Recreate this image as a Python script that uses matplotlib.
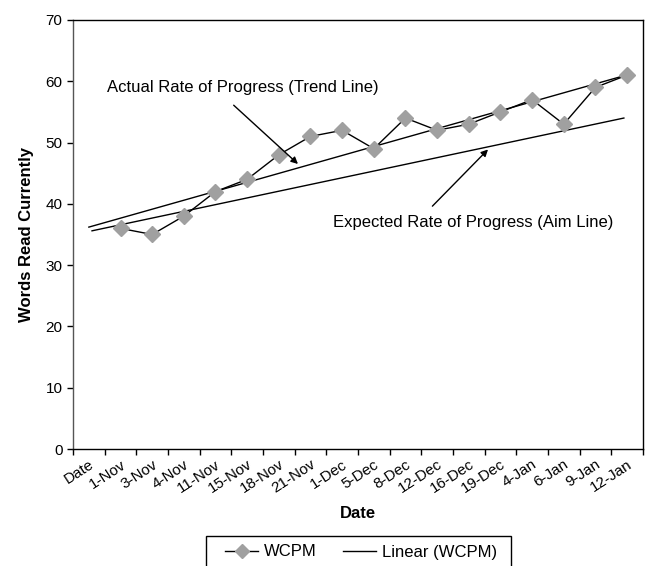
import matplotlib
matplotlib.use("Agg")
import matplotlib.pyplot as plt
import numpy as np
from matplotlib.lines import Line2D
from matplotlib.patches import Rectangle

plt.rcParams['font.family'] = ['Liberation Sans', 'DejaVu Sans']

categories = ["Date", "1-Nov", "3-Nov", "4-Nov", "11-Nov", "15-Nov", "18-Nov", "21-Nov",
              "1-Dec", "5-Dec", "8-Dec", "12-Dec", "16-Dec", "19-Dec", "4-Jan", "6-Jan",
              "9-Jan", "12-Jan"]
wcpm = [np.nan, 36, 35, 38, 42, 44, 48, 51, 52, 49, 54, 52, 53, 55, 57, 53, 59, 61]
aim_start = 35.6
aim_end = 54.0

W, H = 652, 566
fig = plt.figure(figsize=(W / 100, H / 100), dpi=100)
ax = fig.add_axes([0.112, 0.2067, 0.874, 0.758])

x = np.arange(len(categories))
y = np.array(wcpm, dtype=float)

# data line
ax.plot(x, y, color='black', lw=1, marker='D', markersize=8,
        markerfacecolor='#a0a0a0', markeredgecolor='#a0a0a0', zorder=3)

# linear trend line
mask = ~np.isnan(y)
slope, intercept = np.polyfit(x[mask], y[mask], 1)
tx = np.array([0, x[-1]])
ax.plot(tx, slope * tx + intercept, color='black', lw=1, zorder=2)

# aim line
ax.plot([0.1, x[-1] - 0.1], [aim_start, aim_end], color='black', lw=1, zorder=2)

ax.set_xlim(-0.5, len(categories) - 0.5)
ax.set_ylim(0, 70)
ax.set_yticks(range(0, 71, 10))
ax.set_xticks(x)
ax.set_xticklabels(categories, rotation=33, ha='right', rotation_mode='anchor', fontsize=11)
ax.set_xticks(np.arange(-0.5, len(categories), 1), minor=True)
ax.tick_params(axis='x', which='major', length=0, pad=6)
ax.tick_params(axis='x', which='minor', length=4, width=1, direction='out')
ax.tick_params(axis='y', length=4, width=1, direction='out', labelsize=11)

for s in ax.spines.values():
    s.set_linewidth(1)
ax.spines['left'].set_color('#555555')

ax.set_ylabel("Words Read Currently", fontsize=12, fontweight='bold', labelpad=8)
ax.set_xlabel("Date", fontsize=12, fontweight='bold', labelpad=7)

# annotations
ax.annotate("Actual Rate of Progress (Trend Line)", xy=(6.67, 46.2), xytext=(0.57, 59.05),
            fontsize=12, ha='left', va='center')
ax.annotate("", xy=(6.67, 46.2), xytext=(4.51, 56.4),
            arrowprops=dict(arrowstyle='-|>', color='black', lw=1, mutation_scale=10))
ax.annotate("Expected Rate of Progress (Aim Line)", xy=(12.67, 49.2), xytext=(7.71, 37.0),
            fontsize=12, ha='left', va='center')
ax.annotate("", xy=(12.67, 49.2), xytext=(10.79, 39.3),
            arrowprops=dict(arrowstyle='-|>', color='black', lw=1, mutation_scale=10))

# legend box (extends past the bottom edge, as in the reference)
box_l, box_r, box_t = 206 / W, 511 / W, 1 - 536 / H
fig.patches.append(Rectangle((box_l, -0.05), box_r - box_l, box_t + 0.05,
                             transform=fig.transFigure, fill=False,
                             edgecolor='black', lw=1))

handles = [Line2D([], [], color='black', lw=1, marker='D', markersize=7,
                  markerfacecolor='#a0a0a0', markeredgecolor='#a0a0a0'),
           Line2D([], [], color='black', lw=1)]
leg = fig.legend(handles, ["WCPM", "Linear (WCPM)"], loc='center left',
                 bbox_to_anchor=(225 / W, 1 - 552 / H), ncol=2, fontsize=12,
                 frameon=False, borderpad=0, borderaxespad=0,
                 handlelength=2.0, handletextpad=0.35, columnspacing=1.55)

fig.savefig("out.png", dpi=100)
